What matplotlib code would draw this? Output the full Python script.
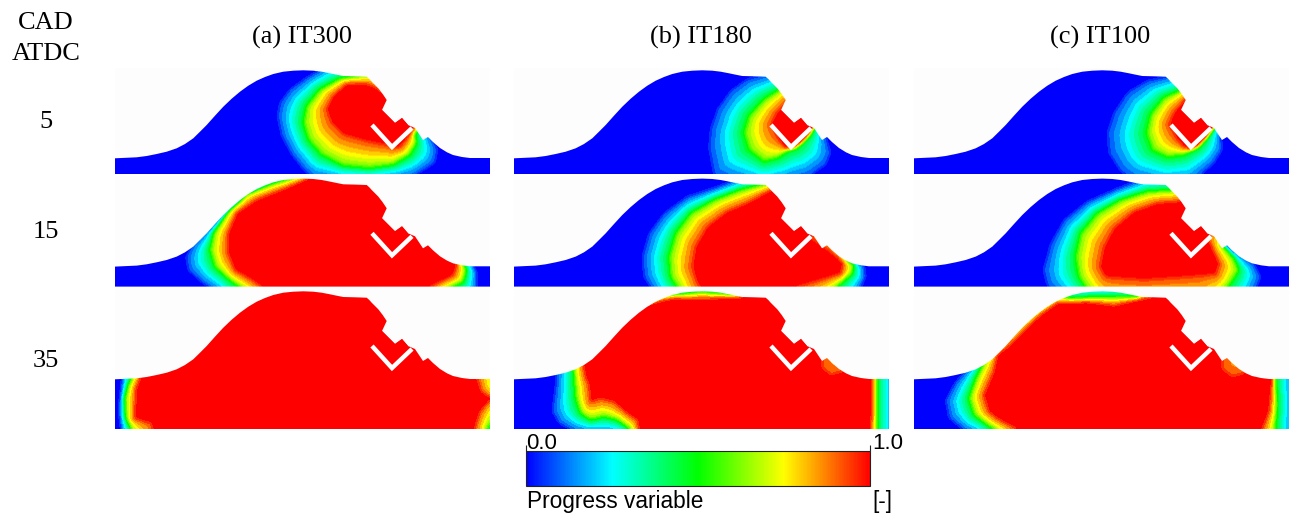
import numpy as np
import matplotlib
matplotlib.use("Agg")
import matplotlib.pyplot as plt
from matplotlib.colors import LinearSegmentedColormap
from matplotlib.patches import Polygon
from matplotlib.path import Path

W, H = 1295, 522

column_titles = ["(a) IT300", "(b) IT180", "(c) IT100"]
row_labels = ["5", "15", "35"]
colorbar_ticks = ["0.0", "1.0"]
colorbar_label = "Progress variable"
colorbar_unit = "[-]"

# Combustion chamber section, px from the left edge and from the dome apex
dome_x = [0, 21.7, 31.7, 41.7, 51.7, 61.7, 70, 78.3, 85, 91.7, 100, 108.3, 116.7, 125, 133.3, 141.7,
          150, 158.3, 168.3, 178.3, 188.3, 198.3, 206.7, 215, 221.7, 228.3, 240, 251.7, 254.3, 256.7,
          260, 263.3, 267.7, 271.7, 267, 280, 287, 293, 300, 308, 313, 318, 325, 332, 338, 347, 355, 375]
dome_y = [88.3, 87.3, 86, 84, 81.7, 78.3, 74, 68.3, 61.7, 55, 45.7, 36.7, 28.7, 21.7, 15.7, 10.7,
          7, 4, 1.7, 0.7, 0.3, 0.7, 1.7, 3.3, 4.7, 6, 6.3, 6.7, 9, 11.7,
          15, 18.3, 24, 30, 40, 53, 48, 55, 58, 70, 67, 72, 78, 82.3, 85, 87, 88, 88]
chamber_depth = [104.3, 108.3, 138]

# Electrode
plug_x = [267, 280, 287, 293, 277, 258]
plug_y = [40, 53, 48, 55, 72, 53]
vee_x = [257, 277, 297]
vee_y = [55, 77, 58]

# Iso-surfaces of the progress variable, units of 1/3 px.
# *_zero: c ~ 0, *_mid: c ~ 0.5, *_one: c ~ 1
a5_zero = [(680, 20), (620, 55), (570, 90), (540, 130), (532, 170), (545, 230), (575, 285), (610, 330),
           (640, 355), (800, 365), (940, 350), (1005, 310), (1012, 270), (990, 225), (1000, 100), (800, 0)]
a5_mid = [(805, 45), (720, 58), (660, 90), (620, 140), (610, 190), (625, 240), (665, 285), (730, 318),
          (810, 325), (880, 315), (930, 285), (950, 250), (945, 225), (1000, 150), (860, 30)]
a5_one = [(800, 75), (740, 75), (700, 110), (680, 150), (695, 190), (730, 225), (800, 245), (865, 258),
          (880, 265), (900, 262), (915, 245), (960, 180), (860, 110), (825, 85)]

b5_zero = [(800, 45), (740, 60), (690, 95), (650, 150), (630, 210), (625, 265), (640, 345), (700, 365),
           (800, 375), (925, 350), (975, 315), (990, 280), (975, 230), (1000, 100), (850, 0), (790, 30)]
b5_mid = [(835, 92), (790, 120), (745, 170), (730, 220), (745, 270), (790, 305), (830, 295), (865, 272),
          (885, 265), (905, 250), (930, 225), (960, 150), (880, 60)]
b5_one = [(860, 125), (825, 165), (812, 195), (830, 235), (850, 262), (872, 270), (890, 262), (915, 240),
          (960, 180), (900, 100)]

c5_zero = [(810, 50), (740, 65), (680, 100), (640, 160), (620, 220), (625, 280), (660, 335), (700, 360),
           (800, 375), (880, 365), (940, 310), (965, 270), (960, 230), (1000, 100), (850, 0)]
c5_mid = [(835, 95), (790, 115), (750, 165), (738, 220), (755, 270), (800, 292), (850, 285), (870, 275),
          (895, 262), (925, 225), (960, 150), (880, 60)]
c5_one = [(855, 120), (820, 160), (805, 195), (830, 240), (850, 262), (872, 270), (890, 262), (915, 240),
          (960, 180), (900, 90)]

a15_zero = [(520, 20), (390, 110), (340, 165), (280, 220), (258, 260), (265, 300), (310, 340), (350, 365),
            (360, 420), (1100, 420), (1130, 350), (1132, 310), (1118, 280), (1130, 200), (800, -50), (560, -20)]
a15_mid = [(610, 15), (520, 40), (440, 70), (380, 130), (340, 190), (330, 240), (345, 290), (390, 330),
           (440, 365), (450, 420), (1030, 420), (1035, 360), (1090, 335), (1100, 300), (1090, 280),
           (1100, 200), (800, -50), (640, -20)]
a15_one = [(640, 20), (560, 55), (470, 90), (410, 130), (385, 190), (385, 250), (405, 300), (450, 325),
           (490, 352), (500, 420), (980, 420), (985, 352), (1060, 315), (1072, 280), (1050, 262),
           (1060, 200), (1000, 100), (800, -30)]

b15_zero = [(730, 20), (640, 55), (560, 80), (490, 130), (445, 190), (425, 260), (430, 320), (460, 365),
            (470, 420), (1050, 420), (1095, 320), (1090, 285), (1065, 272), (1100, 200), (1000, 50), (800, -20)]
b15_mid = [(800, 40), (720, 60), (640, 90), (570, 130), (525, 190), (505, 260), (510, 320), (540, 365),
           (550, 420), (960, 420), (980, 375), (1055, 310), (1060, 285), (1035, 265), (1100, 200),
           (1000, 50), (850, 0)]
b15_one = [(805, 65), (740, 100), (680, 125), (620, 170), (585, 230), (575, 290), (590, 340), (625, 370),
           (640, 420), (860, 420), (880, 352), (1020, 310), (1028, 280), (1010, 262), (975, 235),
           (930, 205), (1000, 100), (850, 40)]

c15_zero = [(730, 25), (640, 60), (560, 95), (490, 150), (450, 220), (428, 300), (440, 345), (480, 375),
            (490, 420), (1040, 420), (1080, 320), (1060, 280), (990, 235), (970, 215), (1000, 100), (820, 10)]
c15_mid = [(815, 60), (740, 65), (660, 90), (590, 130), (540, 190), (525, 260), (535, 320), (565, 365),
           (570, 420), (965, 420), (975, 360), (1015, 300), (1000, 265), (965, 225), (1000, 100), (880, 30)]
c15_one = [(835, 95), (770, 100), (700, 125), (640, 175), (610, 230), (598, 290), (615, 320), (730, 328),
           (850, 320), (945, 312), (955, 280), (935, 235), (920, 205), (1000, 100), (900, 60)]

a35_zero = [(75, 200), (65, 300), (60, 340), (58, 380), (62, 420), (75, 500), (1220, 500), (1220, 200),
            (800, -50), (300, -50)]
a35_mid = [(100, 200), (100, 270), (85, 300), (75, 340), (78, 400), (95, 435), (100, 500), (1150, 500),
           (1165, 430), (1185, 390), (1190, 340), (1185, 280), (1180, 200), (800, -50), (300, -50)]
a35_one = [(125, 200), (125, 270), (110, 310), (105, 400), (155, 415), (160, 435), (175, 500), (1100, 500),
           (1125, 430), (1140, 380), (1175, 340), (1145, 320), (1130, 275), (1130, 200), (800, -50), (200, -50)]

b35_zero = [(170, 230), (165, 300), (155, 380), (175, 415), (225, 440), (300, 445), (370, 450), (380, 500),
            (1185, 500), (1185, 200), (800, -50), (600, 5), (450, -20), (200, 150)]
b35_mid = [(215, 200), (220, 280), (225, 340), (240, 385), (270, 405), (310, 395), (350, 405), (390, 435),
           (400, 500), (1125, 500), (1130, 430), (1130, 360), (1130, 275), (1130, 200), (800, -50), (700, 28),
           (600, 20), (530, 28), (480, 30), (300, 150)]
b35_one = [(235, 180), (255, 275), (265, 300), (270, 350), (300, 340), (340, 350), (380, 385), (410, 405),
           (425, 500), (1100, 500), (1110, 430), (1115, 370), (1115, 280), (1110, 200), (1060, 240), (1020, 262),
           (990, 270), (965, 250), (965, 225), (975, 200), (1000, 100), (800, -20), (720, 38), (600, 42),
           (520, 40), (430, 60)]

c35_zero = [(210, 240), (165, 290), (135, 345), (145, 400), (190, 435), (230, 450), (240, 500), (1180, 500),
            (1180, 200), (800, -50), (600, 5), (450, -20), (200, 150)]
c35_mid = [(245, 240), (225, 280), (205, 340), (220, 390), (260, 420), (300, 445), (310, 500), (1115, 500),
           (1125, 430), (1130, 360), (1125, 280), (1120, 200), (800, -50), (710, 35), (600, 35), (510, 40),
           (470, 30), (300, 150)]
c35_one = [(290, 210), (280, 260), (250, 330), (265, 380), (290, 400), (350, 432), (360, 500), (1070, 500),
           (1085, 430), (1105, 380), (1110, 330), (1115, 280), (1100, 200), (1060, 240), (1025, 268), (990, 275),
           (965, 250), (965, 225), (975, 200), (1000, 100), (800, -20), (750, 38), (700, 48), (640, 62),
           (560, 52), (470, 55), (420, 90), (370, 140), (330, 180)]

fronts = [[(a5_zero, a5_mid, a5_one), (b5_zero, b5_mid, b5_one), (c5_zero, c5_mid, c5_one)],
          [(a15_zero, a15_mid, a15_one), (b15_zero, b15_mid, b15_one), (c15_zero, c15_mid, c15_one)],
          [(a35_zero, a35_mid, a35_one), (b35_zero, b35_mid, b35_one), (c35_zero, c35_mid, c35_one)]]

# Layout in picture px
col_left = [115, 514, 914]
row_apex = [70, 178.3, 291]
row_pad = [2, 2, 2]
zoom_left = [[45, 40, 40], [45, 40, 40], [46, 40, 40]]
zoom_apex = [30, 25, 18]
n_levels = 20

cmap = LinearSegmentedColormap.from_list(
    "rainbow5", ["#0000ff", "#00ffff", "#00ff00", "#ffff00", "#ff0000"], N=256)


def px_axes(fig, left, top, width, height):
    return fig.add_axes([left / W, 1 - (top + height) / H, width / W, height / H])


def poly_distance(points, poly):
    # Distance of every point to the closed polygon edge
    a = poly
    b = np.roll(poly, -1, axis=0)
    best = np.full(len(points), np.inf)
    for p, q in zip(a, b):
        d = q - p
        t = np.clip(((points - p) @ d) / max(d @ d, 1e-9), 0, 1)
        best = np.minimum(best, np.hypot(*(points - p - t[:, None] * d).T))
    return best


def soften(c, width=5):
    # Box filter along both directions, rounds the polygon corners
    pad = width // 2
    kernel = np.ones(width) / width
    c = np.pad(c, pad, mode="edge")
    c = np.apply_along_axis(lambda r: np.convolve(r, kernel, mode="same"), 0, c)
    c = np.apply_along_axis(lambda r: np.convolve(r, kernel, mode="same"), 1, c)
    return c[pad:-pad, pad:-pad]


def progress_field(x, y, zero, mid, one, left, apex):
    # Blend between the three iso-surfaces by distance to them. The plotted
    # field jumps at the edges of the red and blue zones and the green line is thin
    xx, yy = np.meshgrid(x, y)
    points = np.column_stack([xx.ravel(), yy.ravel()])
    polys = [np.column_stack([(np.array(f, float)[:, 0] - left) / 3,
                              (np.array(f, float)[:, 1] - apex) / 3]) for f in (zero, mid, one)]
    in0, in1, in2 = [Path(p).contains_points(points) for p in polys]
    d0, d1, d2 = [poly_distance(points, p) for p in polys]
    c = np.zeros(len(points))
    c[in0] = (0.08 + 0.40 * (d0 / (d0 + d1 + 1e-9)) ** 1.2)[in0]
    c[in1] = (0.56 + 0.37 * (d1 / (d1 + d2 + 1e-9)) ** 0.75)[in1]
    c[in2] = 1.0
    c = soften(c.reshape(xx.shape))
    return np.round(c * n_levels) / n_levels


plt.rcParams["font.family"] = ["Liberation Serif", "DejaVu Serif"]
fig = plt.figure(figsize=(W / 100, H / 100), dpi=100)
fig.patch.set_facecolor("white")

for i, depth in enumerate(chamber_depth):
    for j, left in enumerate(col_left):
        ax = px_axes(fig, left, row_apex[i] - row_pad[i], 375, depth + row_pad[i])
        ax.set_facecolor("#fdfdfd")
        for s in ax.spines.values():
            s.set_visible(False)
        ax.set_xticks([])
        ax.set_yticks([])

        x = np.arange(375) + 0.5
        y = np.arange(int(np.ceil(depth))) + 0.5
        zero, mid, one = fronts[i][j]
        c = progress_field(x, y, zero, mid, one, zoom_left[i][j], zoom_apex[i])
        im = ax.imshow(c, cmap=cmap, vmin=0, vmax=1, extent=(0, 375, y[-1] + 0.5, 0),
                       aspect="auto", interpolation="bilinear")
        ax.set_xlim(0, 375)
        ax.set_ylim(depth, -row_pad[i])

        section = Polygon(list(zip(dome_x + [375, 0], dome_y + [depth, depth])), closed=True,
                          transform=ax.transData, fc="none", ec="none")
        ax.add_patch(section)
        im.set_clip_path(section)

        ax.add_patch(Polygon(list(zip(plug_x, plug_y)), closed=True, fc="#ff0000", ec="none"))
        ax.plot(vee_x, vee_y, color="white", lw=3.2, solid_joinstyle="miter", solid_capstyle="butt")

for title, cx in zip(column_titles, [302, 701, 1100]):
    fig.text(cx / W, 1 - 37 / H, title, ha="center", va="center", fontsize=19)
fig.text(46 / W, 1 - 23 / H, "CAD", ha="center", va="center", fontsize=19)
fig.text(46 / W, 1 - 54 / H, "ATDC", ha="center", va="center", fontsize=19)
for label, cy in zip(row_labels, [122, 232, 361]):
    fig.text(46 / W, 1 - cy / H, label, ha="center", va="center", fontsize=19)

# Colour scale
cax = px_axes(fig, 526, 451, 344, 35)
sm = plt.cm.ScalarMappable(cmap=cmap, norm=plt.Normalize(0, 1))
cb = fig.colorbar(sm, cax=cax, orientation="horizontal", ticks=[0, 1])
cb.outline.set_linewidth(0.8)
cb.outline.set_edgecolor("#222222")
cax.tick_params(top=True, bottom=False, labeltop=False, labelbottom=False, length=4, width=0.8,
                direction="out", color="#222222")

sans = ["Liberation Sans", "DejaVu Sans"]
fig.text(526 / W, 1 - 449 / H, colorbar_ticks[0], ha="left", va="baseline", fontsize=16, family=sans)
fig.text(872 / W, 1 - 449 / H, colorbar_ticks[1], ha="left", va="baseline", fontsize=16, family=sans)
fig.text(527 / W, 1 - 508 / H, colorbar_label, ha="left", va="baseline", fontsize=16.3, family=sans)
fig.text(872 / W, 1 - 508 / H, colorbar_unit, ha="left", va="baseline", fontsize=16.3, family=sans)

fig.savefig("out.png", dpi=100)
